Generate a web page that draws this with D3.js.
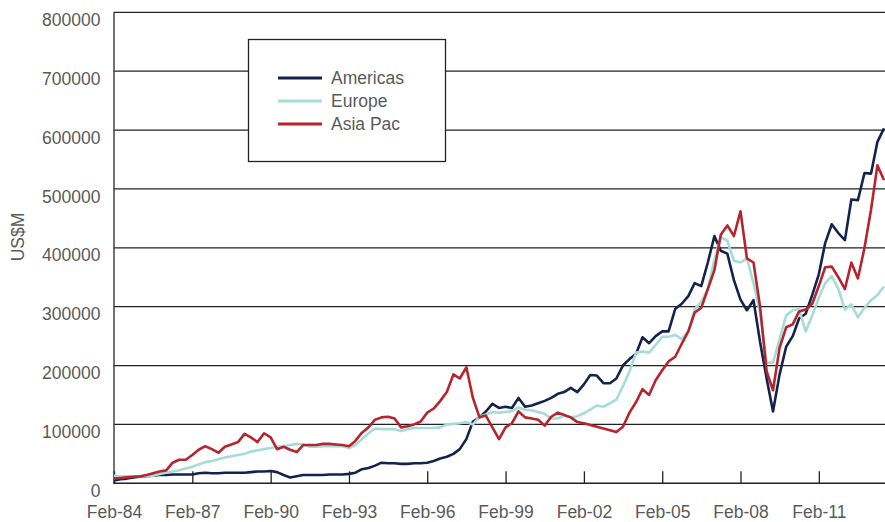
<!DOCTYPE html>
<html>
<head>
<meta charset="utf-8">
<script src="https://cdn.jsdelivr.net/npm/d3@7/dist/d3.min.js"></script>
<style>
  html, body { margin: 0; padding: 0; background: #fff; }
  svg { display: block; }
  text { font-family: "Liberation Sans", Arial, sans-serif; }
</style>
</head>
<body>
<svg id="chart" width="885" height="522"></svg>
<script>
// Series values in thousands of US$M, quarterly Feb-84 .. Aug-13
const seriesNames = ["Americas", "Europe", "Asia Pac"];
const seriesColors = ["#14234e", "#a6dcd8", "#b5252d"];

const americas = [
  5, 7, 8, 10,   11, 12, 13, 14,   14, 15, 15, 15,   15, 17, 18, 17,
  17, 18, 18, 18,   18, 19, 20, 20,   21, 19, 14, 10,   12, 14, 14, 14,
  14, 15, 15, 15,   16, 18, 24, 26,   30, 35, 34, 34,   33, 33, 34, 34,
  35, 38, 42, 45,   50, 58, 75, 105,   112, 122, 135, 128,   130, 128, 145, 130,
  132, 136, 140, 145,   152, 155, 162, 155,   168, 184, 183, 170,   170, 178, 200, 211,
  220, 248, 238, 250,   258, 258, 296, 305,   318, 340, 335, 375,   420, 395, 390, 345,
  312, 294, 311, 240,   178, 122, 185, 232,   250, 280, 288, 320,   355, 408, 440, 425,
  413, 482, 481, 527,   526, 580, 603
];
const europe = [
  13, 12, 12, 12,   12, 12, 13, 16,   18, 20, 22, 25,   28, 32, 36, 38,
  41, 44, 46, 48,   50, 54, 56, 58,   60, 62, 63, 65,   67, 66, 62, 62,
  63, 63, 63, 63,   60, 65, 75, 85,   93, 92, 92, 92,   89, 92, 94, 94,
  94, 94, 95, 100,   101, 102, 104, 100,   113, 117, 121, 120,   121, 123, 129, 125,
  124, 121, 118, 110,   110, 115, 112, 114,   119, 125, 132, 130,   136, 142, 165, 190,
  222, 224, 222, 235,   249, 249, 252, 245,   258, 296, 308, 330,   380, 418, 412, 378,
  375, 382, 340, 290,   205, 205, 245, 285,   294, 296, 258, 285,   315, 340, 352, 330,
  295, 304, 282, 298,   311, 320, 334
];
const asiaPac = [
  8, 9, 10, 11,   12, 14, 17, 20,   22, 35, 40, 40,   48, 57, 63, 58,
  52, 62, 66, 70,   84, 78, 70, 85,   78, 58, 62, 57,   53, 65, 65, 65,
  67, 67, 66, 65,   63, 72, 86, 95,   108, 112, 113, 110,   95, 97, 100, 105,
  120, 127, 140, 155,   185, 178, 197, 145,   112, 115, 95, 75,   95, 102, 122, 112,
  110, 108, 98, 113,   120, 116, 112, 104,   102, 99, 96, 93,   90, 87, 96, 120,
  138, 160, 150, 175,   192, 207, 215, 237,   258, 290, 298, 330,   362, 422, 438, 420,
  462, 382, 375, 300,   190, 158, 230, 265,   270, 292, 295, 305,   335, 367, 368, 350,
  330, 375, 348, 400,   465, 540, 515
];

const yTicks = [0, 100000, 200000, 300000, 400000, 500000, 600000, 700000, 800000];
const xTickLabels = ["Feb-84", "Feb-87", "Feb-90", "Feb-93", "Feb-96", "Feb-99", "Feb-02", "Feb-05", "Feb-08", "Feb-11"];
const yTitle = "US$M";

// time grid (quarterly)
const parseTick = d3.timeParse("%b-%y");
const startDate = new Date(1984, 1, 1);
const dates = americas.map((_, i) => d3.timeMonth.offset(startDate, i * 3));

const svg = d3.select("#chart");
const plotLeft = 113.5, plotRight = 885, plotTop = 12.3, plotBottom = 483.3;

const x = d3.scaleTime()
  .domain([new Date(1984, 1, 1), new Date(2013, 7, 1)])
  .range([114, 884]);
const y = d3.scaleLinear().domain([0, 800000]).range([plotBottom, plotTop]);

const textColor = "#5a5a5a";
const fontSize = 17.5;

// gridlines
svg.append("g")
  .selectAll("line")
  .data(yTicks.filter(d => d > 0))
  .join("line")
  .attr("x1", plotLeft).attr("x2", plotRight)
  .attr("y1", d => y(d)).attr("y2", d => y(d))
  .attr("stroke", "#222").attr("stroke-width", 1.3);

// y axis labels
const yAxis = d3.axisLeft(y).tickValues(yTicks).tickSize(0).tickPadding(13)
  .tickFormat(d3.format("d"));
const gy = svg.append("g").attr("transform", `translate(${plotLeft},0)`).call(yAxis);
gy.select(".domain").attr("stroke", "#444").attr("stroke-width", 1.5);
gy.selectAll("text")
  .attr("fill", textColor).style("font-size", fontSize + "px")
  .attr("dy", "0.32em")
  .attr("transform", "translate(0,7.5)");

// x axis
const xAxis = d3.axisBottom(x)
  .tickValues(xTickLabels.map(parseTick))
  .tickFormat(d3.timeFormat("%b-%y"))
  .tickSizeInner(-12).tickSizeOuter(0).tickPadding(22);
const gx = svg.append("g").attr("transform", `translate(0,${plotBottom})`).call(xAxis);
gx.select(".domain").attr("stroke", "#222").attr("stroke-width", 1.5)
  .attr("d", `M${plotLeft},0H${plotRight}`);
gx.selectAll(".tick line").attr("stroke", "#222").attr("stroke-width", 1.3);
gx.selectAll("text").attr("fill", textColor).style("font-size", fontSize + "px");

// y title
svg.append("text")
  .attr("transform", "translate(24,237) rotate(-90)")
  .attr("text-anchor", "middle")
  .attr("fill", textColor).style("font-size", fontSize + "px")
  .text(yTitle);

// lines
const line = d3.line()
  .x((d, i) => x(dates[i]))
  .y(d => y(d * 1000));

const allSeries = [americas, europe, asiaPac];
svg.append("g")
  .selectAll("path")
  .data(allSeries)
  .join("path")
  .attr("d", d => line(d))
  .attr("fill", "none")
  .attr("stroke", (d, i) => seriesColors[i])
  .attr("stroke-width", 2.6)
  .attr("stroke-linejoin", "round");

// legend
const legend = svg.append("g");
legend.append("rect")
  .attr("x", 248.5).attr("y", 39.5).attr("width", 197).attr("height", 122)
  .attr("fill", "#fff").attr("stroke", "#222").attr("stroke-width", 1.3);
seriesNames.forEach((name, i) => {
  const ly = 78 + i * 23;
  legend.append("line")
    .attr("x1", 278).attr("x2", 322).attr("y1", ly).attr("y2", ly)
    .attr("stroke", seriesColors[i]).attr("stroke-width", 3);
  legend.append("text")
    .attr("x", 331).attr("y", ly).attr("dy", "0.35em")
    .attr("fill", textColor).style("font-size", fontSize + "px")
    .text(name);
});
</script>
</body>
</html>
